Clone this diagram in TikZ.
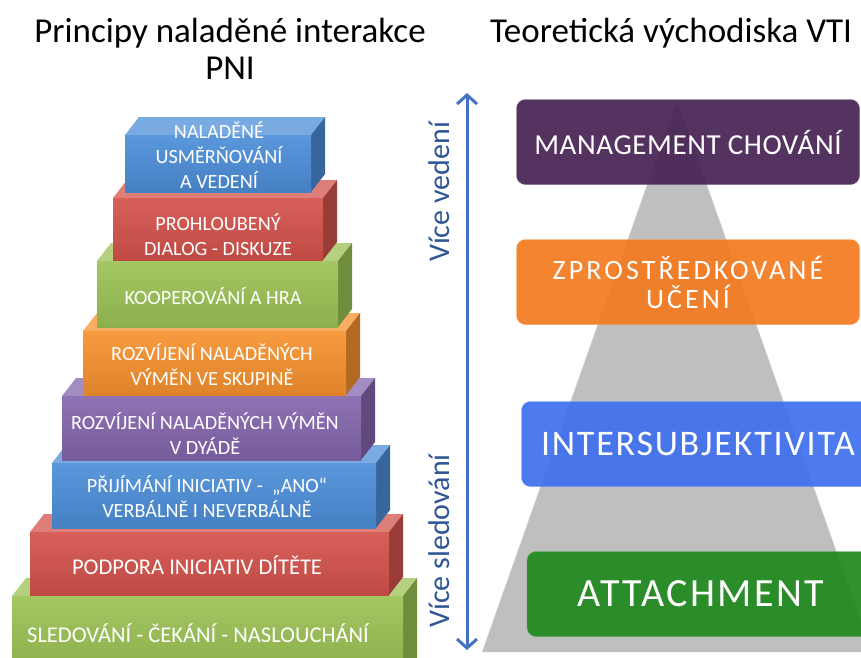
\documentclass[tikz,border=0pt]{standalone}
\usepackage{fontspec}
\setmainfont{Carlito}
\usetikzlibrary{arrows.meta}

\definecolor{pniBlue}{HTML}{4C8ED8}
\definecolor{pniRed}{HTML}{D4524B}
\definecolor{pniGreen}{HTML}{9CC255}
\definecolor{pniOrange}{HTML}{F7922F}
\definecolor{pniPurple}{HTML}{8466AE}
\definecolor{vtiPurple}{HTML}{472455}
\definecolor{vtiOrange}{HTML}{F47B20}
\definecolor{vtiBlue}{HTML}{4170EE}
\definecolor{vtiGreen}{HTML}{1F8A1F}
\definecolor{vtiGrey}{HTML}{BFBFBF}
\definecolor{vtiArrow}{HTML}{4472C4}
\definecolor{vtiLabel}{HTML}{2F5597}

\begin{document}
\begin{tikzpicture}[x=1pt,y=-1pt,
  pniFront/.style={top color=#1!92!white, bottom color=#1!90!black},
  pniTop/.style={fill=#1!75!white},
  pniSide/.style={fill=#1!72!black},
  pnitext/.style={text=white, font=\fontsize{22.5}{25}\selectfont, align=center, inner sep=0pt},
  pnismall/.style={pnitext, font=\fontsize{20.2}{25}\selectfont},
  vtibox/.style={rounded corners=9pt, minimum width=343pt, minimum height=85pt, inner sep=0pt,
    text=white, align=center, fill opacity=0.93, text opacity=1, draw=#1!70!white, fill=#1},
  title/.style={font=\fontsize{35}{37}\selectfont, align=center, inner sep=0pt},
  sidelabel/.style={text=vtiLabel, font=\fontsize{30}{32}\selectfont, rotate=90, inner sep=0pt}]
\useasboundingbox (0,0) rectangle (861,657);
\clip (0,0) rectangle (861,657);

\node[title] (pnititle) at (230,49) {Principy naladěné interakce\\PNI};
\node[title] (vtititle) at (671,33) {Teoretická východiska VTI};

% pyramid PNI, from the bottom up
\fill[pniTop=pniGreen] (12,596) -- (26,578) -- (417,578) -- (403,596) -- cycle;
\fill[pniSide=pniGreen] (403,596) -- (417,578) -- (417,670) -- (403,670) -- cycle;
\shade[pniFront=pniGreen] (12,596) rectangle (403,670);
\node[pnitext] (sledovani) at (198,633) {SLEDOVÁNÍ - ČEKÁNÍ - NASLOUCHÁNÍ};

\fill[pniTop=pniRed] (30,532) -- (44,514) -- (403,514) -- (389,532) -- cycle;
\fill[pniSide=pniRed] (389,532) -- (403,514) -- (403,577) -- (389,595) -- cycle;
\shade[pniFront=pniRed] (30,532) rectangle (389,595);
\node[pnitext] (podpora) at (197,565) {PODPORA INICIATIV DÍTĚTE};

\fill[pniTop=pniBlue] (52,463) -- (66,445) -- (390,445) -- (376,463) -- cycle;
\fill[pniSide=pniBlue] (376,463) -- (390,445) -- (390,510) -- (376,528) -- cycle;
\shade[pniFront=pniBlue] (52,463) rectangle (376,528);
\node[pnismall] (prijimani) at (207,497) {PŘIJÍMÁNÍ INICIATIV -\ \ „ANO“\\VERBÁLNĚ I NEVERBÁLNĚ};

\fill[pniTop=pniPurple] (62,396) -- (76,378) -- (375,378) -- (361,396) -- cycle;
\fill[pniSide=pniPurple] (361,396) -- (375,378) -- (375,442) -- (361,460) -- cycle;
\shade[pniFront=pniPurple] (62,396) rectangle (361,460);
\node[pnismall] (dyada) at (205,434) {ROZVÍJENÍ NALADĚNÝCH VÝMĚN\\V DYÁDĚ};

\fill[pniTop=pniOrange] (83,331) -- (97,313) -- (360,313) -- (346,331) -- cycle;
\fill[pniSide=pniOrange] (346,331) -- (360,313) -- (360,377) -- (346,395) -- cycle;
\shade[pniFront=pniOrange] (83,331) rectangle (346,395);
\node[pnismall] (skupina) at (212,365) {ROZVÍJENÍ NALADĚNÝCH\\VÝMĚN VE SKUPINĚ};

\fill[pniTop=pniGreen] (97,261) -- (111,243) -- (352,243) -- (338,261) -- cycle;
\fill[pniSide=pniGreen] (338,261) -- (352,243) -- (352,309) -- (338,327) -- cycle;
\shade[pniFront=pniGreen] (97,261) rectangle (338,327);
\node[pnismall] (kooperovani) at (213,296) {KOOPEROVÁNÍ A HRA};

\fill[pniTop=pniRed] (113,198) -- (127,180) -- (337,180) -- (323,198) -- cycle;
\fill[pniSide=pniRed] (323,198) -- (337,180) -- (337,242) -- (323,260) -- cycle;
\shade[pniFront=pniRed] (113,198) rectangle (323,260);
\node[pnismall] (prohloubeny) at (218,235) {PROHLOUBENÝ\\DIALOG - DISKUZE};

\fill[pniTop=pniBlue] (125,135) -- (139,117) -- (325,117) -- (311,135) -- cycle;
\fill[pniSide=pniBlue] (311,135) -- (325,117) -- (325,174) -- (311,192) -- cycle;
\shade[pniFront=pniBlue] (125,135) rectangle (311,192);
\node[pnismall] (naladene) at (219,155) {NALADĚNÉ\\USMĚRŇOVÁNÍ\\A VEDENÍ};

% arrow between leading and following
\coordinate (vedeniEnd) at (467,93);
\coordinate (sledovaniEnd) at (467,650);
\draw[vtiArrow, line width=3pt, {Straight Barb[length=9pt,width=20pt]}-{Straight Barb[length=9pt,width=20pt]}] (sledovaniEnd) -- (vedeniEnd);
\node[sidelabel] (vicevedeni) at (439,192) {Více vedení};
\node[sidelabel] (vicesledovani) at (439,541) {Více sledování};

% VTI
\fill[vtiGrey, draw=white!90!black] (677,100) -- (482,652) -- (872,652) -- cycle;
\node[vtibox=vtiPurple, font=\fontsize{29}{32}\selectfont\addfontfeature{LetterSpace=2}] (management) at (688,142) {MANAGEMENT CHOVÁNÍ};
\node[vtibox=vtiOrange, font=\fontsize{28}{29}\selectfont\addfontfeature{LetterSpace=11}] (zprostredkovane) at (688,282) {ZPROSTŘEDKOVANÉ\\UČENÍ};
\node[vtibox=vtiBlue, minimum width=353pt, font=\fontsize{36}{40}\selectfont\addfontfeature{LetterSpace=5}] (intersubjektivita) at (698,444) {INTERSUBJEKTIVITA};
\node[vtibox=vtiGreen, minimum width=348pt, font=\fontsize{40}{44}\selectfont\addfontfeature{LetterSpace=6}] (attachment) at (701,594) {ATTACHMENT};

\end{tikzpicture}
\end{document}
